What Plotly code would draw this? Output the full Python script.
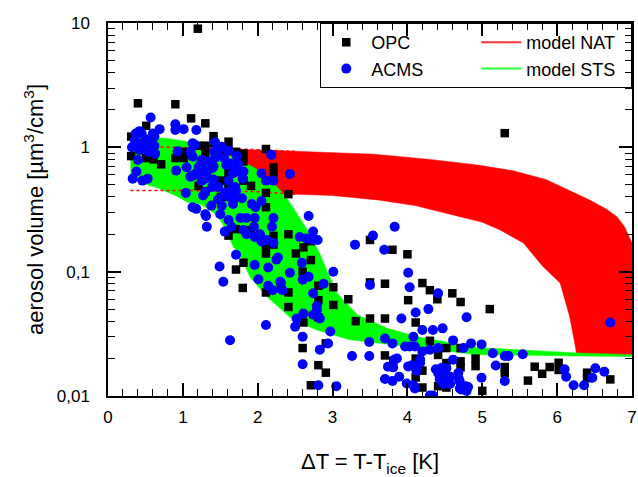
import plotly.graph_objects as go

# ---------------- data ----------------
opc_x = [1.20, 0.40, 0.90, 1.11, 1.30, 0.51, 0.31, 1.41, 1.61, 0.40, 1.21, 1.30, 1.11, 1.30, 1.01,
         1.01, 0.90, 0.31, 0.51, 0.61, 0.71, 1.41, 1.52, 1.61, 1.71, 1.81, 1.81, 1.71, 1.61, 1.51,
         1.21, 1.61, 1.81, 1.91, 1.30, 1.51, 1.71, 1.91, 1.61, 2.11, 2.11, 2.21, 2.21, 2.11, 2.41,
         2.21, 2.21, 2.41, 2.11, 2.11, 2.61, 2.71, 2.51, 2.71, 2.60, 3.50, 3.80, 4.00, 1.81, 1.71,
         1.80, 5.30, 2.81, 3.01, 2.41, 2.11, 2.31, 3.21, 3.50, 3.70, 4.01, 2.41, 3.01, 2.81, 2.61,
         2.81, 3.31, 3.50, 3.70, 4.11, 2.60, 2.91, 3.70, 3.81, 2.81, 2.91, 2.71, 4.11, 4.11, 4.20,
         4.30, 4.40, 4.60, 4.71, 5.10, 4.30, 4.52, 4.71, 4.41, 4.71, 4.91, 4.91, 4.71, 4.52, 5.30,
         5.30, 5.70, 5.90, 6.02, 6.02, 5.80, 5.61, 6.40, 6.40, 6.71, 4.20, 4.41, 4.52, 5.00, 4.20,
         4.50, 1.61]
opc_y = [9.0, 2.26, 2.22, 1.71, 1.56, 1.49, 1.22, 1.23, 1.11, 1.08, 1.03, 1.03, 0.90, 0.90, 0.92,
         0.82, 0.82, 0.85, 0.82, 0.80, 0.73, 1.08, 0.89, 0.95, 0.92, 0.89, 0.77, 0.72, 0.66, 0.54,
         0.49, 0.57, 0.54, 0.49, 0.44, 0.40, 0.22, 0.216, 0.195, 0.33, 0.97, 0.69, 0.62, 0.43, 0.42,
         0.194, 0.165, 0.20, 0.16, 0.14, 0.157, 0.176, 0.14, 0.124, 0.10, 0.18, 0.15, 0.138, 0.118, 0.104,
         0.074, 1.30, 0.077, 0.075, 0.068, 0.068, 0.074, 0.060, 0.082, 0.080, 0.059, 0.052, 0.054, 0.059, 0.039,
         0.043, 0.040, 0.042, 0.042, 0.039, 0.0243, 0.0265, 0.0212, 0.0192, 0.0177, 0.0154, 0.0122, 0.0200, 0.0141, 0.081,
         0.071, 0.060, 0.067, 0.057, 0.050, 0.0278, 0.0243, 0.0243, 0.0214, 0.019, 0.020, 0.0174, 0.017, 0.0184, 0.0171,
         0.0153, 0.0172, 0.0171, 0.0185, 0.0162, 0.0151, 0.0133, 0.0154, 0.0139, 0.0136, 0.0117, 0.0120, 0.0117, 0.0110, 0.016,
         0.0136, 0.49]

acms_x = [0.57, 0.90, 0.90, 1.01, 1.18, 0.42, 0.45, 0.60, 0.69, 0.51, 0.62, 0.40, 0.32, 0.52, 0.62,
          0.42, 0.54, 0.63, 0.40, 0.38, 0.33, 0.46, 0.53, 0.91, 0.93, 1.13, 1.16, 1.10, 1.13, 1.25,
          1.05, 1.13, 1.18, 1.21, 1.30, 1.27, 1.41, 1.39, 1.30, 1.27, 1.39, 1.42, 1.43, 1.52, 1.55,
          1.58, 1.47, 1.56, 1.67, 1.67, 1.74, 1.79, 1.71, 1.61, 1.79, 1.67, 1.92, 1.97, 1.52, 1.50,
          1.30, 1.13, 1.04, 1.31, 1.32, 1.77, 1.85, 1.96, 1.65, 1.56, 1.85, 2.04, 2.05,
          1.43, 1.47, 1.61, 1.72, 1.63, 1.70, 2.18, 2.11, 2.43, 2.68, 2.56, 2.74, 2.19, 2.21, 2.05,
          1.95, 2.12, 2.21, 1.38, 1.69, 0.37, 0.46, 0.55, 1.10, 1.25, 1.32, 1.47, 1.63, 1.70, 1.73,
          1.81, 1.80, 1.41, 1.34, 1.23, 1.27, 1.18, 1.61, 1.61, 0.36, 0.37,
          1.71, 1.49, 1.54, 1.63, 2.11, 1.96, 2.01, 2.14, 2.14, 2.20, 2.30, 2.33, 2.43, 2.59, 2.60,
          2.68, 2.74, 2.79, 2.79, 2.74, 2.83, 2.61, 2.52, 2.50, 3.01, 2.97, 2.94, 2.83, 2.60, 2.81,
          3.05, 2.74, 2.80, 2.65, 2.03, 2.05, 1.81, 1.96, 2.25, 3.30, 3.54, 3.83, 3.69, 4.01, 3.50,
          4.03, 3.92, 3.26, 3.49, 3.70, 3.80, 3.97, 3.49, 3.83, 3.74, 3.81, 3.70, 3.80, 3.89, 4.08,
          4.10, 4.03, 4.01, 4.08, 2.21, 2.27, 2.31, 2.88, 2.60, 4.11, 3.86, 4.06, 3.99, 4.10,
          4.41, 4.28, 4.79, 4.20, 4.34, 4.47, 4.61, 4.85, 4.99, 4.20, 4.30, 4.41, 4.17, 5.14, 5.30,
          5.35, 5.54, 4.61, 4.75, 5.18, 4.38, 4.46, 4.52, 4.12, 4.43, 4.48, 4.57, 4.69, 4.70, 4.81,
          4.79, 4.99, 5.30, 4.34, 6.10, 6.12, 6.22, 6.36, 6.47, 6.51, 6.63, 6.71, 4.17, 4.41, 4.50,
          4.68, 4.46, 4.70, 4.72, 4.30, 4.78, 4.57]
acms_y = [1.74, 1.53, 1.38, 1.40, 1.38, 1.35, 1.29, 1.29, 1.40, 1.16, 1.22, 1.08, 1.00, 1.01, 1.03,
          0.95, 0.92, 0.89, 0.79, 0.64, 0.56, 0.54, 0.56, 0.65, 0.93, 1.08, 1.05, 0.92, 0.84, 0.79,
          0.69, 0.59, 0.62, 0.69, 0.56, 0.60, 0.55, 0.48, 0.44, 0.41, 0.68, 0.92, 0.82, 1.01, 0.82,
          0.72, 0.48, 0.43, 0.62, 0.71, 0.73, 0.62, 0.45, 0.40, 0.39, 0.35, 0.35, 0.33, 0.34, 0.29,
          0.29, 0.33, 0.43, 0.28, 0.23, 0.27, 0.27, 0.27, 0.23, 0.21, 0.20, 0.19, 0.62,
          1.10, 0.95, 0.94, 0.85, 0.74, 0.74, 0.87, 0.54, 0.61, 0.28, 0.19, 0.18, 0.23, 0.27, 0.37,
          0.23, 0.18, 0.17, 0.34, 0.39, 1.03, 0.98, 1.08, 0.58, 0.54, 0.59, 0.38, 0.45, 0.48, 0.64,
          0.64, 0.56, 0.70, 0.77, 0.72, 0.66, 0.32, 0.54, 0.26, 1.14, 1.29,
          0.137, 0.11, 0.083, 0.0281, 0.0372, 0.113, 0.087, 0.108, 0.077, 0.071, 0.083, 0.071, 0.098, 0.118, 0.086,
          0.091, 0.067, 0.053, 0.049, 0.045, 0.042, 0.046, 0.042, 0.036, 0.10, 0.033, 0.0264, 0.0236, 0.018, 0.0122,
          0.012, 0.21, 0.18, 0.185, 0.20, 0.175, 0.216, 0.19, 0.125, 0.165, 0.195, 0.23, 0.15, 0.098, 0.078,
          0.075, 0.042, 0.021, 0.021, 0.029, 0.0265, 0.025, 0.0272, 0.0197, 0.0172, 0.017, 0.0137, 0.0132, 0.0143, 0.030,
          0.025, 0.025, 0.0173, 0.0122, 0.54, 0.13, 0.081, 0.08, 0.030, 0.047, 0.020, 0.0177, 0.0126, 0.0115,
          0.067, 0.05, 0.043, 0.034, 0.034, 0.035, 0.028, 0.0265, 0.026, 0.0228, 0.0236, 0.0243, 0.0196, 0.0221, 0.021,
          0.021, 0.0217, 0.0196, 0.0243, 0.0176, 0.0164, 0.0169, 0.0167, 0.016, 0.0137, 0.0125, 0.0143, 0.0136, 0.0115, 0.0118,
          0.011, 0.014, 0.0132, 0.0101, 0.0164, 0.0143, 0.0122, 0.0122, 0.014, 0.0167, 0.0157, 0.039, 0.0185, 0.0153, 0.0153,
          0.0153, 0.0132, 0.013, 0.0113, 0.0101, 0.012, 0.0125]

# model NAT band (upper / lower boundary)
nat_upper_x = [0.3, 1.0, 1.73, 2.5, 3.56, 4.3, 4.94, 5.4, 5.85, 6.1, 6.44, 6.65, 6.8, 6.9, 7.0]
nat_upper_y = [1.02, 1.0, 0.97, 0.93, 0.88, 0.80, 0.72, 0.65, 0.55, 0.47, 0.376, 0.32, 0.276, 0.23, 0.17]
nat_lower_x = [0.3, 1.0, 2.0, 2.5, 3.0, 3.63, 4.1, 4.57, 5.0, 5.24, 5.55, 5.81, 6.04, 6.17, 6.26, 6.4, 7.0]
nat_lower_y = [0.45, 0.45, 0.44, 0.42, 0.41, 0.376, 0.34, 0.29, 0.25, 0.216, 0.17, 0.11, 0.081, 0.043, 0.022, 0.0212, 0.021]

# model STS band (upper / lower boundary)
sts_upper_x = [0.3, 0.8, 1.03, 1.3, 1.5, 1.75, 2.0, 2.1, 2.2, 2.35, 2.47, 2.6, 2.7, 2.83, 2.93, 3.06, 3.33,
               3.73, 4.13, 4.93, 6.27, 7.0]
sts_upper_y = [1.22, 1.18, 1.12, 1.0, 0.92, 0.8, 0.66, 0.6, 0.52, 0.42, 0.33, 0.25, 0.20, 0.14, 0.10, 0.067, 0.045,
               0.035, 0.030, 0.0245, 0.0222, 0.0215]
sts_lower_x = [0.3, 0.67, 0.9, 1.07, 1.23, 1.46, 1.59, 1.67, 1.75, 1.9, 2.12, 2.47, 2.79, 3.23, 3.67, 4.13, 4.93,
               6.27, 7.0]
sts_lower_y = [0.55, 0.47, 0.41, 0.36, 0.35, 0.285, 0.21, 0.16, 0.14, 0.09, 0.063, 0.041, 0.034, 0.0283, 0.0265,
               0.0245, 0.0215, 0.021, 0.0208]

nat_fill_start = 1.0   # NAT area is filled from here on
nat_dash_end = 2.5     # dashed NAT boundaries drawn up to here

x_ticks = [0, 1, 2, 3, 4, 5, 6, 7]
x_ticktext = ["0", "1", "2", "3", "4", "5", "6", "7"]
y_ticks = [0.01, 0.1, 1, 10]
y_ticktext = ["0,01", "0,1", "1", "10"]

RED = "#ff0000"
GREEN = "#00ff00"
BLUE = "#0000ff"
FONT = "Liberation Sans, Arial, Helvetica, sans-serif"


def band(ux, uy, lx, ly, xmin=None):
    pu = [(x, y) for x, y in zip(ux, uy) if xmin is None or x >= xmin]
    pl = [(x, y) for x, y in zip(lx, ly) if xmin is None or x >= xmin]
    pts = pu + pl[::-1]
    return [p[0] for p in pts], [p[1] for p in pts]


fig = go.Figure()

bx, by = band(nat_upper_x, nat_upper_y, nat_lower_x, nat_lower_y, nat_fill_start)
fig.add_trace(go.Scatter(x=bx, y=by, mode="lines", fill="toself", fillcolor=RED,
                         line=dict(color=RED, width=0.5), showlegend=False, hoverinfo="skip"))

bx, by = band(sts_upper_x, sts_upper_y, sts_lower_x, sts_lower_y)
fig.add_trace(go.Scatter(x=bx, y=by, mode="lines", fill="toself", fillcolor=GREEN,
                         line=dict(color=GREEN, width=0.5), showlegend=False, hoverinfo="skip"))

# dashed NAT boundaries at small dT
for xs, ys in ((nat_lower_x, nat_lower_y), (nat_upper_x, nat_upper_y)):
    dx = [x for x in xs if x <= nat_dash_end]
    dy = [y for x, y in zip(xs, ys) if x <= nat_dash_end]
    fig.add_trace(go.Scatter(x=dx, y=dy, mode="lines",
                             line=dict(color=RED, width=1.5, dash="3px,3px"),
                             showlegend=False, hoverinfo="skip"))

fig.add_trace(go.Scatter(x=opc_x, y=opc_y, mode="markers", name="OPC", legendrank=1,
                         marker=dict(symbol="square", size=8.5, color="black")))
fig.add_trace(go.Scatter(x=acms_x, y=acms_y, mode="markers", name="ACMS", legendrank=3,
                         marker=dict(symbol="circle", size=10, color=BLUE)))

# legend entries for the model bands
fig.add_trace(go.Scatter(x=[None], y=[None], mode="lines", name="model NAT", legendrank=2,
                         line=dict(color="#ff3030", width=2)))
fig.add_trace(go.Scatter(x=[None], y=[None], mode="lines", name="model STS", legendrank=4,
                         line=dict(color="#30ff30", width=2)))

axis_common = dict(showline=True, linecolor="black", linewidth=1.5, mirror="ticks",
                   ticks="inside", ticklen=13, tickwidth=1.5, tickcolor="black",
                   showgrid=False, zeroline=False, ticklabeloverflow="allow",
                   tickfont=dict(family=FONT, size=17, color="black"))

fig.update_xaxes(range=[0, 7], tickmode="array", tickvals=x_ticks, ticktext=x_ticktext,
                 ticklabelstandoff=5,
                 minor=dict(dtick=0.2, ticks="inside", ticklen=7, tickwidth=1, tickcolor="black", showgrid=False),
                 title=dict(text="ΔT = T-T<sub>ice</sub> [K]", font=dict(family=FONT, size=22, color="black"),
                            standoff=28),
                 **axis_common)

minor_y = [m * 10 ** e for e in (-2, -1, 0) for m in range(2, 10)]
fig.update_yaxes(type="log", range=[-2, 1], tickvals=y_ticks, ticktext=y_ticktext, ticklabelstandoff=13,
                 minor=dict(tickvals=minor_y, ticks="inside", ticklen=7, tickwidth=1, tickcolor="black",
                            showgrid=False),
                 title=dict(text="aerosol volume [µm<sup>3</sup>/cm<sup>3</sup>]",
                            font=dict(family=FONT, size=22, color="black"), standoff=7),
                 **axis_common)

fig.update_layout(
    width=638, height=477,
    margin=dict(l=108, r=6, t=23, b=81, autoexpand=False),
    paper_bgcolor="white", plot_bgcolor="white",
    font=dict(family=FONT, color="black"),
    legend=dict(orientation="h", x=1.0005, xanchor="right", y=1, yanchor="top",
                bordercolor="black", borderwidth=1, bgcolor="rgba(0,0,0,0)",
                itemwidth=40, entrywidth=100, entrywidthmode="pixels",
                font=dict(family=FONT, size=18, color="black"), traceorder="normal"),
)

# remove the default page margin so the 638x477 figure fills the window exactly
fig.write_html("out.html", config={"displayModeBar": False},
               post_script="document.body.style.margin='0';document.body.style.overflow='hidden';")
